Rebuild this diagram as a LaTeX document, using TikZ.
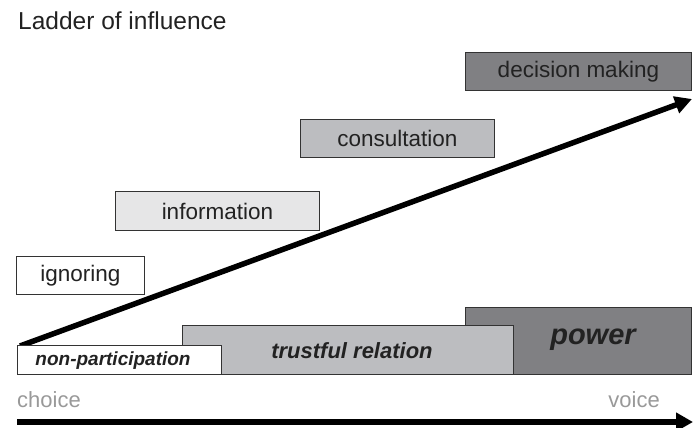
\documentclass[tikz,border=0pt]{standalone}
\usepackage{fontspec}
\setmainfont{Liberation Sans}
\usetikzlibrary{arrows.meta}
\definecolor{txt}{HTML}{222222}
\definecolor{edge}{HTML}{333333}
\definecolor{darkfill}{HTML}{808083}
\definecolor{midfill}{HTML}{BCBDC0}
\definecolor{lightfill}{HTML}{E6E6E7}
\definecolor{axis}{HTML}{999999}
\tikzset{
  stage/.style={draw=edge, line width=0.8pt, anchor=south west, inner sep=0pt,
    text=txt, font=\fontsize{22.5}{26}\selectfont},
  level/.style={draw=edge, line width=0.8pt, anchor=south west, inner sep=0pt},
  lbl/.style={text=txt, inner sep=0pt, font=\bfseries\itshape},
  thickarrow/.style={line width=5.5pt, -{Triangle[length=17pt,width=17pt]}},
}
\begin{document}
\begin{tikzpicture}[x=1pt,y=1pt]
\useasboundingbox (0,0) rectangle (693,428);
% title
\node[anchor=west, text=txt, inner sep=0pt, font=\fontsize{24.5}{28}\selectfont] (title) at (18,407) {Ladder of influence};
% upper stages
\node[stage, fill=darkfill, minimum width=226, minimum height=38] (dm) at (465,337) {decision making};
\node[stage, fill=midfill, minimum width=194, minimum height=38] (cons) at (300,270) {consultation};
\node[stage, fill=lightfill, minimum width=204, minimum height=39] (info) at (115,197) {information};
\node[stage, fill=white, minimum width=128, minimum height=38] (ign) at (16,133) {ignoring};
% lower levels
\node[level, fill=darkfill, minimum width=226, minimum height=67] (pow) at (465,53) {};
\node[level, fill=midfill, minimum width=331, minimum height=49] (trust) at (182,53) {};
% diagonal arrow
\coordinate (dstart) at (20,82);
\coordinate (dend) at (692,329);
\draw[thickarrow] (dstart) -- (dend);
\node[level, fill=white, minimum width=204, minimum height=29] (nonp) at (17,53) {};
\node[lbl, font=\bfseries\itshape\fontsize{29}{33}\selectfont] (powt) at (593,88) {power};
\node[lbl, font=\bfseries\itshape\fontsize{22}{26}\selectfont] (trustt) at (352,77) {trustful relation};
\node[lbl, font=\bfseries\itshape\fontsize{19}{22}\selectfont] (nonpt) at (113,67) {non-participation};
% axis
\node[anchor=west, text=axis, inner sep=0pt, font=\fontsize{22}{26}\selectfont] (choice) at (17,28) {choice};
\node[anchor=east, text=axis, inner sep=0pt, font=\fontsize{22}{26}\selectfont] (voice) at (660,28) {voice};
\coordinate (astart) at (17,6);
\coordinate (aend) at (693,6);
\draw[line width=6pt, -{Triangle[length=17pt,width=18pt]}] (astart) -- (aend);
\end{tikzpicture}
\end{document}
